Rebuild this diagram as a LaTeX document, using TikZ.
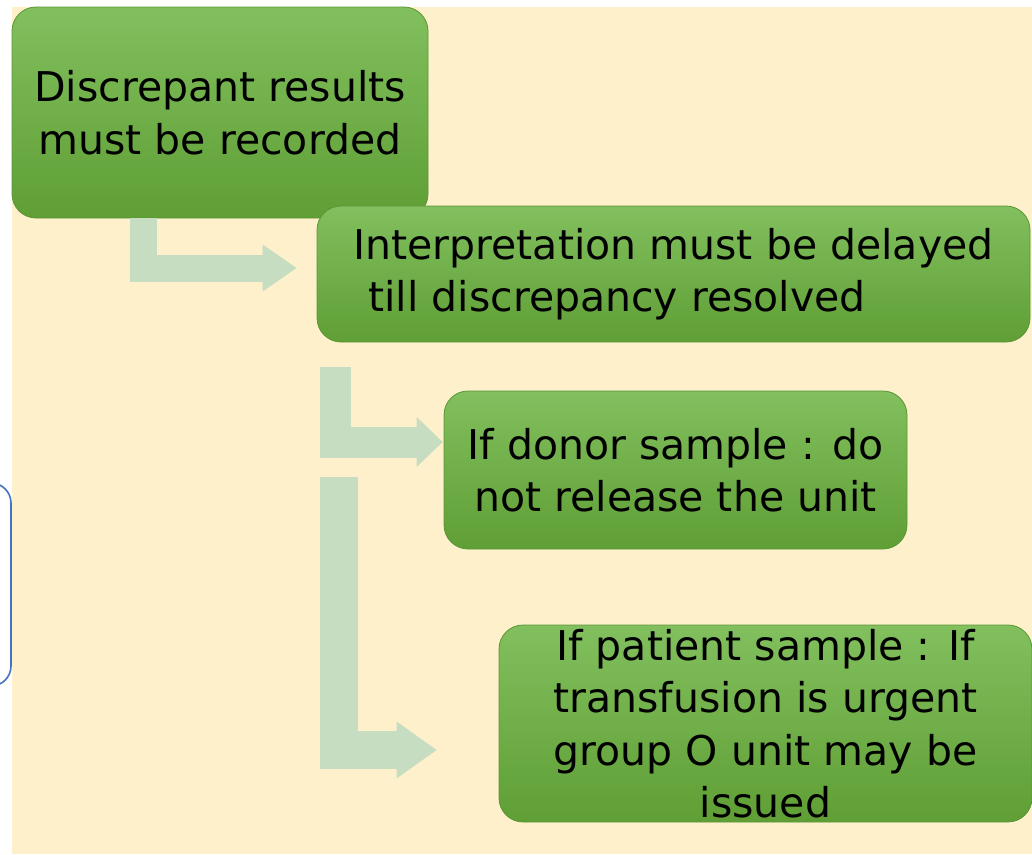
\documentclass[tikz,border=0pt]{standalone}
\usepackage{fontspec}
\setmainfont{DejaVu Sans}
\usetikzlibrary{arrows.meta,calc}
\definecolor{paper}{HTML}{FFF0CC}
\definecolor{boxtop}{HTML}{82BF5E}
\definecolor{boxbottom}{HTML}{5F9F35}
\definecolor{boxedge}{HTML}{5A9634}
\definecolor{pipegreen}{HTML}{C7DDC1}
\definecolor{frameblue}{HTML}{4472C4}

\begin{document}
\begin{tikzpicture}[x=1pt, y=-1pt, font=\fontsize{41}{52.5}\selectfont]
  % one unit is one pixel of the slide, y runs down the page
  \useasboundingbox (0,0) rectangle (1032,854);
  \tikzset{
    greenbox/.style={draw=boxedge, line width=0.8pt, rounded corners=24pt,
                     top color=boxtop, bottom color=boxbottom,
                     inner sep=0pt, align=center, text=black},
    pipe/.style={draw=pipegreen, line width=#1}}

  % ========== the slide: white strip left and top, cream page ==========
  \fill[white] (0,0) rectangle (1032,854);
  \fill[paper] (12,7) rectangle (1032,854);
  % the edge of a frame that sits off the slide
  \draw[frameblue, line width=1.6pt, rounded corners=20pt] (-40,483) rectangle (11,686);

  % ========== the four steps ==========
  \node[greenbox, minimum width=416pt, minimum height=211pt] (discrep) at (220,112.5)
    {Discrepant results\\must be recorded};
  \node[greenbox, minimum width=713pt, minimum height=136pt, align=left] (interp) at (673.5,274)
    {Interpretation must be delayed\\\hspace*{15pt}till discrepancy resolved};
  \node[greenbox, minimum width=463pt, minimum height=158pt] (donor) at (675.5,470)
    {If donor sample : do\\not release the unit};
  \node[greenbox, minimum width=533pt, minimum height=197pt] (patient) at (765.5,723.5)
    {If patient sample : If\\transfusion is urgent\\group O unit may be\\issued};

  % ========== the bent pipes between them ==========
  \draw[pipe=27pt, -{Triangle[length=34pt, width=47pt, line width=0pt]}]
    ($(discrep.south west)+(132,0)$) |- ($(interp.west)+(-20,-6)$);
  \draw[pipe=31pt, -{Triangle[length=26pt, width=50pt, line width=0pt]}]
    ($(interp.south west)+(19,25)$) |- ($(donor.west)+(-1,-28)$);
  \draw[pipe=38pt, -{Triangle[length=40pt, width=57pt, line width=0pt]}]
    ($(interp.south west)+(22.5,135)$) |- ($(patient.west)+(-62,26.5)$);
\end{tikzpicture}
\end{document}
